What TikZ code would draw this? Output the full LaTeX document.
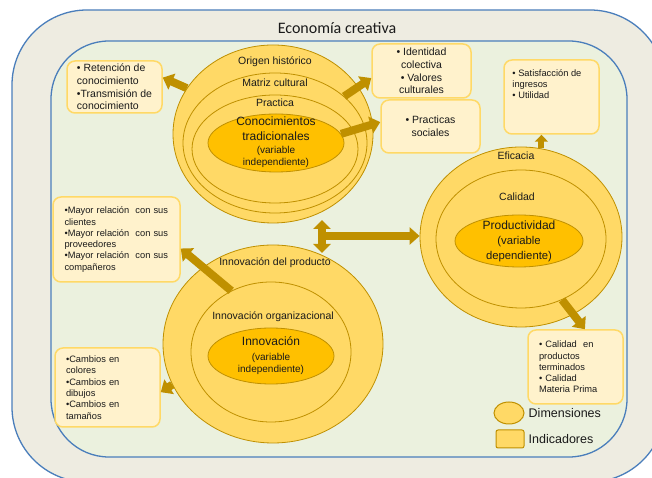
\documentclass[tikz,border=0pt]{standalone}
\usepackage{fontspec}
\setmainfont{Liberation Sans}
\newfontfamily\titlefont{Carlito}
\usetikzlibrary{shapes.geometric,arrows.meta}
\definecolor{frameblue}{HTML}{4A7EBB}
\definecolor{outerbg}{HTML}{EEECE1}
\definecolor{innerbg}{HTML}{EBF1DE}
\definecolor{ringfill}{HTML}{FFD966}
\definecolor{ringline}{HTML}{BF9000}
\definecolor{corefill}{HTML}{FFC000}
\definecolor{boxfill}{HTML}{FFF2CC}
\definecolor{boxline}{HTML}{FFD966}
\definecolor{arrowgold}{HTML}{BF9000}
\definecolor{txt}{HTML}{1A1A1A}
\tikzstyle{ring} = [ellipse, draw=ringline, fill=ringfill, line width=0.8pt, inner sep=0pt]
\tikzstyle{core} = [ring, fill=corefill]
\tikzstyle{ringlabel} = [text=txt, inner sep=0pt, font=\fontsize{10.5}{12}\selectfont]
\tikzstyle{coretext} = [text=txt, inner sep=0pt, align=center, font=\fontsize{10}{12}\selectfont]
\tikzstyle{indicator} = [rectangle, rounded corners=8pt, draw=boxline, fill=boxfill, line width=1.5pt, text=txt, inner sep=0pt]
\tikzstyle{bigarrow} = [draw=arrowgold, line width=8pt, -{Triangle[width=17pt,length=10pt]}]
\newcommand{\bigline}[1]{{\fontsize{12}{15}\selectfont #1}}
\newcommand{\indfont}{\fontsize{10.5}{12.7}\selectfont}
\newcommand{\indsmallfont}{\fontsize{9.3}{11.3}\selectfont}

\begin{document}
\begin{tikzpicture}[x=1pt,y=1pt]
	\useasboundingbox (0,0) rectangle (652,478);
	\clip (0,0) rectangle (652,478);
	\fill[white] (0,0) rectangle (652,478);
	\draw[frameblue, line width=1.3pt, fill=outerbg, rounded corners=75pt] (12,-4) rectangle (665,468);
	\draw[frameblue, line width=1.3pt, fill=innerbg, rounded corners=58pt] (51,21) rectangle (627,437);
	\node[text=txt, font=\titlefont\fontsize{16}{19}\selectfont] (titulo) at (337,450) {Economía creativa};

	% conocimientos tradicionales
	\node[ring, minimum width=200pt, minimum height=178pt] (origen) at (273,344) {};
	\node[ring, minimum width=184pt, minimum height=140pt] (matriz) at (275,335) {};
	\node[ring, minimum width=166pt, minimum height=108pt] (practica) at (275,329) {};
	\node[core, minimum width=136pt, minimum height=58pt] (conoc) at (276,335) {};
	\node[ringlabel] (lblorigen) at (275,416) {Origen histórico};
	\node[ringlabel] (lblmatriz) at (275,395) {Matriz cultural};
	\node[ringlabel] (lblpractica) at (275,375) {Practica};
	\node[coretext] (conoctxt) at ([yshift=1pt]conoc.center) {\bigline{Conocimientos}\\[3pt]\bigline{tradicionales}\\[1pt](variable\\independiente)};

	% innovacion
	\node[ring, minimum width=220pt, minimum height=198pt] (innprod) at (273,134) {};
	\node[ring, minimum width=160pt, minimum height=140pt] (innorg) at (271,126) {};
	\node[core, minimum width=126pt, minimum height=56pt] (innov) at (271,122) {};
	\node[ringlabel] (lblinnprod) at (275,215) {Innovación del producto};
	\node[ringlabel] (lblinnorg) at (273,161) {Innovación organizacional};
	\node[coretext] (innovtxt) at (innov.center) {\bigline{Innovación}\\[3pt](variable\\independiente)};

	% productividad
	\node[ring, minimum width=202pt, minimum height=180pt] (eficacia) at (521,241) {};
	\node[ring, minimum width=170pt, minimum height=138pt] (calidad) at (521,239) {};
	\node[core, minimum width=128pt, minimum height=52pt] (productiv) at (519,237) {};
	\node[ringlabel] (lbleficacia) at (516,322) {Eficacia};
	\node[ringlabel] (lblcalidad) at (517,281) {Calidad};
	\node[coretext, font=\fontsize{11.3}{15}\selectfont] (productivtxt) at (productiv.center) {\bigline{Productividad}\\(variable\\dependiente)};

	% indicadores
	\node[indicator, minimum width=95pt, minimum height=52pt, align=left, font=\indfont] (retenc) at (114.5,391) {• Retención de\\conocimiento\\•Transmisión de\\conocimiento};
	\node[indicator, minimum width=99pt, minimum height=54pt, align=center, font=\indfont] (identid) at (421.5,407) {• Identidad\\colectiva\\• Valores\\culturales};
	\node[indicator, minimum width=99pt, minimum height=53pt, align=center, font=\indfont] (practsoc) at (430.5,351.5) {• Practicas\\sociales};
	\node[indicator, minimum width=95pt, minimum height=74pt] (satisf) at (551.5,381) {};
	\node[text=txt, inner sep=0pt, anchor=north west, align=left, font=\indsmallfont] (satisftxt) at ([shift={(9pt,-10pt)}]satisf.north west) {• Satisfacción de\\ingresos\\• Utilidad};
	\node[indicator, minimum width=127pt, minimum height=85pt, text width=104pt, align=left, font=\indsmallfont] (relac) at (116.5,238.5) {•Mayor relación\ \ con sus\\clientes\\•Mayor relación\ \ con sus\\proveedores\\•Mayor relación\ \ con sus\\compañeros};
	\node[indicator, minimum width=105pt, minimum height=79pt, text width=83pt, align=left, font=\indsmallfont] (cambios) at (107.5,90.5) {•Cambios en\\colores\\•Cambios en\\dibujos\\•Cambios en\\tamaños};
	\node[indicator, minimum width=95pt, minimum height=74pt, text width=73pt, align=left, font=\indsmallfont] (calidadind) at (575.5,111) {• Calidad\ \ en\\productos\\terminados\\• Calidad\\Materia Prima};

	% flechas
	\draw[bigarrow] (origen.152) -- (retenc.11);
	\draw[bigarrow] (matriz.34) -- (identid.188);
	\draw[bigarrow] (conoc.8) -- (practsoc.175);
	\draw[bigarrow, line width=6pt, -{Triangle[width=13pt,length=7pt]}] (eficacia.77) -- (eficacia.77 |- satisf.south);
	\draw[bigarrow] (innorg.123) -- (relac.-8);
	\draw[bigarrow] (innprod.202) -- (cambios.-5);
	\draw[bigarrow] (calidad.-56) -- (calidadind.76);
	\coordinate (vtop) at (322,258);
	\coordinate (vbot) at (322,225);
	\coordinate (hub) at (322,242);
	\draw[bigarrow, {Triangle[width=17pt,length=9pt]}-{Triangle[width=17pt,length=9pt]}] (vtop) -- (vbot);
	\draw[bigarrow] (hub) -- (hub -| eficacia.west);

	% leyenda
	\node[ring, line width=1pt, minimum width=30pt, minimum height=22pt] (legdim) at (509,65) {};
	\node[text=txt, anchor=west, inner sep=0pt, font=\fontsize{12.5}{15}\selectfont] (legdimtxt) at ([xshift=4pt]legdim.east) {Dimensiones};
	\node[rectangle, draw=ringline, fill=ringfill, line width=1pt, rounded corners=2pt, minimum width=28pt, minimum height=18pt] (legind) at (510,39) {};
	\node[text=txt, anchor=west, inner sep=0pt, font=\fontsize{12.5}{15}\selectfont] (legindtxt) at ([xshift=4pt]legind.east) {Indicadores};
\end{tikzpicture}
\end{document}
